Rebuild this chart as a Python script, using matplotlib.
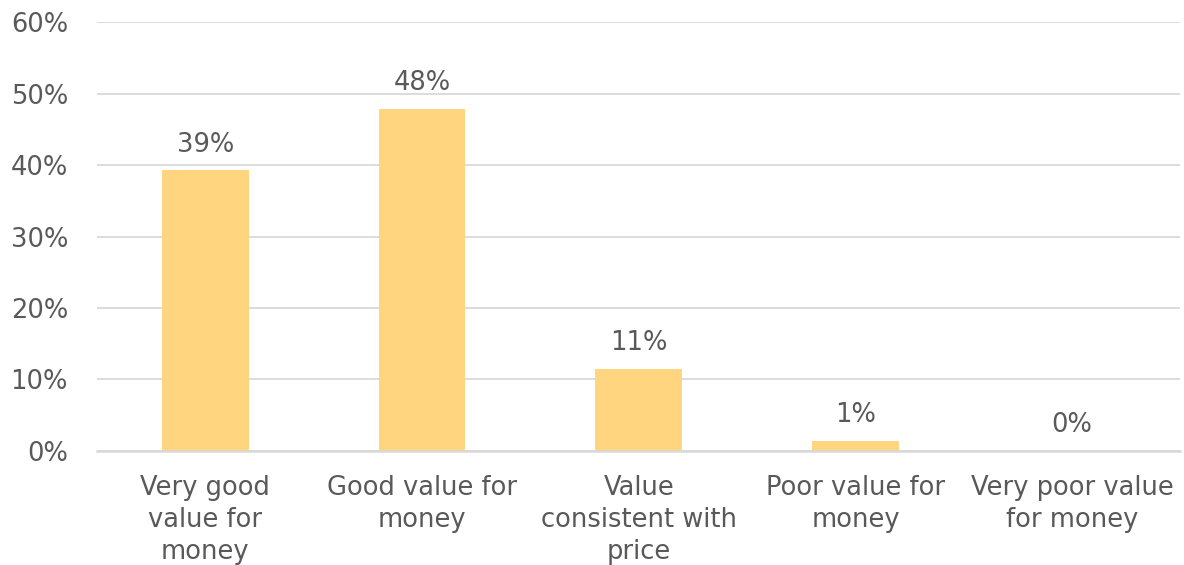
import matplotlib

matplotlib.use("Agg")
import matplotlib.pyplot as plt
from matplotlib.ticker import FuncFormatter, MultipleLocator

TEXT = "#595959"
GRID = "#d9d9d9"
BAR = "#ffd67f"

categories = ["Very good\nvalue for\nmoney", "Good value for\nmoney",
              "Value\nconsistent with\nprice", "Poor value for\nmoney",
              "Very poor value\nfor money"]
shares = [39.3, 47.9, 11.5, 1.4, 0.0]
share_labels = ["39%", "48%", "11%", "1%", "0%"]

plt.rcParams.update({"font.family": ["DejaVu Sans"]})

fig = plt.figure(figsize=(11.84, 5.65), dpi=100)
ax = fig.add_axes([0.082, 0.2018, 0.915, 0.7592])

x = range(len(categories))
ax.bar(x, shares, width=0.4, color=BAR, zorder=2)
for xi, v, lab in zip(x, shares, share_labels):
    ax.annotate(lab, (xi, v), textcoords="offset points", xytext=(0, 9),
                ha="center", va="bottom", color=TEXT, fontsize=18.5)

ax.set_xlim(-0.5, len(categories) - 0.5)
ax.set_ylim(0, 60)
ax.yaxis.set_major_locator(MultipleLocator(10))
ax.yaxis.set_major_formatter(FuncFormatter(lambda v, _: f"{v:.0f}%"))
ax.grid(axis="y", color=GRID, lw=1.3, zorder=0)
ax.set_axisbelow(True)
for side in ("top", "right", "left"):
    ax.spines[side].set_visible(False)
ax.spines["bottom"].set_color(GRID)
ax.spines["bottom"].set_linewidth(1.8)
ax.set_xticks(list(x))
ax.set_xticklabels(categories, linespacing=1.3)
ax.tick_params(axis="both", length=0, colors=TEXT, labelsize=18.5)
ax.tick_params(axis="x", pad=17)
ax.tick_params(axis="y", pad=21)

fig.savefig("out.png", dpi=100, facecolor="white")
